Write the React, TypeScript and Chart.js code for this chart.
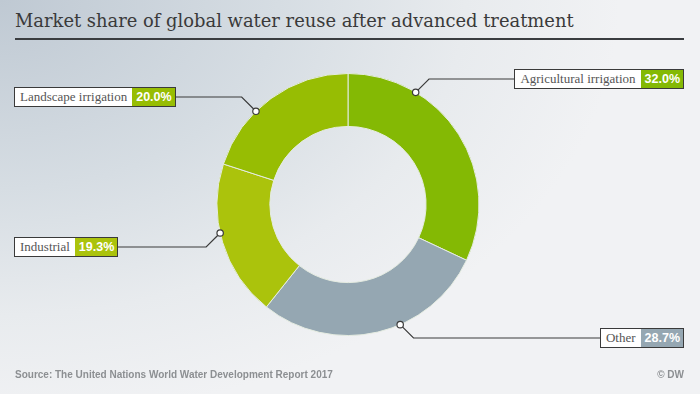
import React, { useEffect, useRef } from "react";
import { Chart, registerables } from "chart.js";

Chart.register(...registerables);

const categories = ["Agricultural irrigation", "Other", "Industrial", "Landscape irrigation"];
const shares = [32.0, 28.7, 19.3, 20.0];
const percentLabels = ["32.0%", "28.7%", "19.3%", "20.0%"];
const sliceColors = ["#84b904", "#95a7b2", "#abc30c", "#97bd03"];
// position of each callout dot along its slice (fraction of the slice's angle)
const dotFractions = [0.27, 0.4, 0.56, 0.38];

const W = 700;
const H = 394;

type Callout = { side: "left" | "right"; top: number };
// label box layout (left boxes start at x=14, right boxes end at x=684)
const callouts: Callout[] = [
  { side: "right", top: 69 },
  { side: "right", top: 328 },
  { side: "left", top: 237 },
  { side: "left", top: 87 },
];
const BOX_H = 20;
const BOX_LEFT = 14;
const BOX_RIGHT = 684;

const calloutPlugin = {
  id: "callouts",
  afterDatasetsDraw(chart: any) {
    const ctx = chart.ctx;
    const meta = chart.getDatasetMeta(0);
    meta.data.forEach((arc: any, i: number) => {
      const p = arc.getProps(["x", "y", "startAngle", "endAngle", "outerRadius"], true);
      const a = p.startAngle + dotFractions[i] * (p.endAngle - p.startAngle);
      const dx = p.x + Math.cos(a) * p.outerRadius;
      const dy = p.y + Math.sin(a) * p.outerRadius;
      const c = callouts[i];
      const ly = c.top + BOX_H / 2;
      const dir = c.side === "right" ? 1 : -1;
      const ex = dx + dir * Math.abs(ly - dy);
      const endX = c.side === "right" ? BOX_RIGHT - 20 : BOX_LEFT + 20;
      ctx.save();
      ctx.strokeStyle = "#3a3a3a";
      ctx.lineWidth = 1.2;
      ctx.beginPath();
      ctx.moveTo(dx, dy);
      ctx.lineTo(ex, ly);
      ctx.lineTo(endX, ly);
      ctx.stroke();
      ctx.beginPath();
      ctx.arc(dx, dy, 3.2, 0, Math.PI * 2);
      ctx.fillStyle = "#ffffff";
      ctx.fill();
      ctx.stroke();
      ctx.restore();
    });
  },
};

function LabelBox({ i }: { i: number }) {
  const c = callouts[i];
  const pos: React.CSSProperties =
    c.side === "left" ? { left: BOX_LEFT } : { right: W - BOX_RIGHT };
  return (
    <div
      style={{
        position: "absolute",
        top: c.top,
        ...pos,
        height: BOX_H - 2,
        display: "flex",
        border: "1px solid #3a3a3a",
        background: "#ffffff",
        lineHeight: `${BOX_H - 2}px`,
        whiteSpace: "nowrap",
      }}
    >
      <span
        style={{
          fontFamily: '"Liberation Serif", serif',
          fontSize: 13,
          color: "#555555",
          padding: "0 5px 0 5px",
        }}
      >
        {categories[i]}
      </span>
      <span
        style={{
          fontFamily: '"Liberation Sans", Arial, sans-serif',
          fontWeight: 700,
          fontSize: 12.5,
          color: "#ffffff",
          background: sliceColors[i],
          padding: "0 3px 0 4px",
        }}
      >
        {percentLabels[i]}
      </span>
    </div>
  );
}

export default function App() {
  const canvasRef = useRef<HTMLCanvasElement | null>(null);

  useEffect(() => {
    if (!canvasRef.current) return;
    const chart = new Chart(canvasRef.current, {
      type: "doughnut",
      data: {
        labels: categories,
        datasets: [
          {
            data: shares,
            backgroundColor: sliceColors,
            borderColor: "#e4ebe0",
            borderWidth: 1,
            hoverOffset: 0,
          },
        ],
      },
      options: {
        responsive: false,
        animation: false,
        radius: 131,
        cutout: "59.6%",
        layout: { padding: { left: 0, right: 4, top: 15, bottom: 0 } },
        plugins: {
          legend: { display: false },
          tooltip: { enabled: false },
        },
      } as any,
      plugins: [calloutPlugin],
    });
    return () => chart.destroy();
  }, []);

  return (
    <div
      style={{
        position: "fixed",
        left: 0,
        top: 0,
        width: W,
        height: H,
        overflow: "hidden",
        background:
          "radial-gradient(ellipse 620px 420px at 0px 0px, #bfc9d3 0%, #d6dde3 45%, #e8ebee 75%, #f1f2f4 100%)",
        backgroundColor: "#f1f2f4",
      }}
    >
      <div
        style={{
          position: "absolute",
          left: 15,
          top: 8,
          fontFamily: '"DejaVu Serif", serif',
          fontSize: 17.9,
          lineHeight: "26px",
          color: "#3a3a3a",
          whiteSpace: "nowrap",
        }}
      >
        Market share of global water reuse after advanced treatment
      </div>
      <div
        style={{
          position: "absolute",
          left: 15,
          top: 38,
          width: 669,
          height: 2,
          background: "#3a3d40",
        }}
      />
      <canvas
        ref={canvasRef}
        width={W}
        height={H}
        style={{ position: "absolute", left: 0, top: 0, width: W, height: H }}
      />
      {callouts.map((_, i) => (
        <LabelBox key={i} i={i} />
      ))}
      <div
        style={{
          position: "absolute",
          left: 15,
          top: 369,
          fontFamily: '"Liberation Sans", Arial, sans-serif',
          fontWeight: 700,
          fontSize: 10,
          color: "#8c8f92",
          whiteSpace: "nowrap",
        }}
      >
        Source: The United Nations World Water Development Report 2017
      </div>
      <div
        style={{
          position: "absolute",
          right: W - 684,
          top: 369,
          fontFamily: '"Liberation Sans", Arial, sans-serif',
          fontWeight: 700,
          fontSize: 10,
          color: "#8c8f92",
          whiteSpace: "nowrap",
        }}
      >
        © DW
      </div>
    </div>
  );
}
